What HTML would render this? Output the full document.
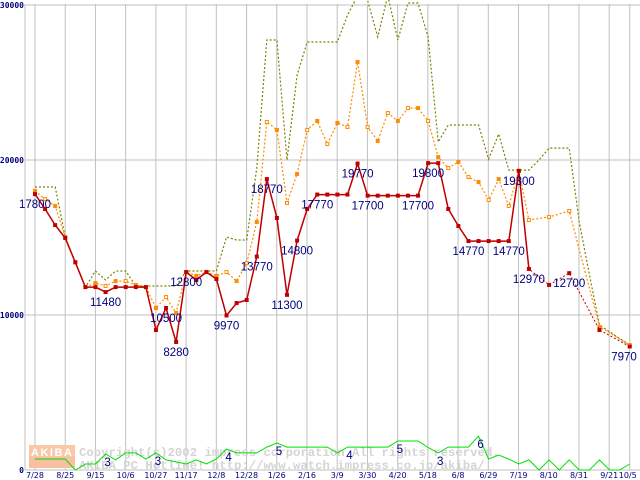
<!DOCTYPE html>
<html><head><meta charset="utf-8"><style>
html,body{margin:0;padding:0;background:#fff;}
svg{display:block;font-family:"Liberation Sans",sans-serif;}
</style></head><body>
<svg id="chart" width="640" height="480" viewBox="0 0 640 480" xmlns="http://www.w3.org/2000/svg">
<g id="grid"></g>
<g id="wm">
<rect x="29" y="445" width="46" height="12" fill="#f8c8a8"/>
<rect x="29" y="457" width="46" height="11" fill="#f8c0a0"/>
<text x="31" y="456" font-size="11" font-weight="bold" letter-spacing="1.5" fill="#fff">AKIBA</text>
<text x="79" y="456" font-family="Liberation Mono,monospace" font-size="12.3" font-weight="bold" fill="#d4d4d4">Copyright(c)2002 impress corporation All rights reserved.</text>
<text x="79" y="469" font-family="Liberation Mono,monospace" font-size="12.3" font-weight="bold" fill="#d4d4d4">AKIBA PC Hotline! http://www.watch.impress.co.jp/akiba/</text>
</g>
<g id="series"></g>
<g id="labels"></g>
</svg>
<script>
const xLabels = ["7/28","8/25","9/15","10/6","10/27","11/17","12/8","12/28","1/26","2/16","3/9","3/30","4/20","5/18","6/8","6/29","7/19","8/10","8/31","9/21","10/5"];
const yTicks = [0,10000,20000,30000];
const redValues = [17800,16840,15800,14970,13400,11800,11800,11480,11800,11800,11800,11800,9030,10450,8260,12770,12260,12770,12320,9970,10770,10970,13770,18770,16260,11300,14800,16840,17770,17770,17770,17770,19770,17700,17700,17700,17700,17700,17700,19800,19800,16840,15740,14770,14770,14770,14770,14770,19300,12970,null,11940,null,12700,null,null,9030,null,null,7970];
const orangeValues = [18000,17480,17030,15030,13400,11800,12060,11870,12190,12190,11940,11800,10450,11160,10130,12770,12520,12770,12520,12770,12190,13350,16000,22450,21940,17230,19100,21940,22520,21030,22390,22130,26320,22130,21230,23030,22520,23350,23350,22520,20190,19480,19870,18900,18580,17420,18770,17030,19300,16130,null,16320,null,16710,null,null,9230,null,null,8060];
const oliveValues = [18260,18260,18260,15030,13400,11800,12840,12260,12840,12840,11870,11870,11870,11870,11870,12840,12840,12840,12840,15030,14840,14840,19500,27740,27740,20000,25480,27610,27610,27610,27610,29350,30600,30300,27940,30600,27740,30130,30130,27940,21160,22260,22260,22260,22260,20060,21680,19350,19350,19350,20000,20770,20770,20770,16000,12600,9350,null,null,8060];
const greenValues = [710,710,710,710,0,390,390,1030,650,1100,1100,710,1100,650,520,390,650,390,710,1350,1100,1100,1100,1480,1740,1480,1480,1480,1480,1480,1100,1480,1480,1480,1480,1480,1870,1870,1870,1450,1100,1480,1480,1480,2190,710,970,700,390,650,0,650,0,650,0,0,650,0,0,390];
const priceLabels = ["17800","11480","10500","8280","12800","9970","13770","18770","11300","14800","17770","19770","17700","17700","19800","14770","14770","19300","12970","12700","7970"];
const priceLabelIdx = [0,7,13,14,15,19,22,23,25,26,28,32,33,38,39,43,47,48,49,53,59];
const priceLabelVal = [17800,11480,10450,8260,12770,9970,13770,18770,11300,14800,17770,19770,17700,17700,19800,14770,14770,19300,12970,12700,7970];
const countLabels = ["3","3","4","5","4","5","3","6"];
const countLabelIdx = [7,12,19,24,31,36,40,44];

const NS="http://www.w3.org/2000/svg";
const X0=35, DX=10.08, Y0=470, YS=15.5/1000;
function xs(i){return X0+i*DX;}
function ys(v){return Y0-v*YS;}
function mk(tag,attrs,parent){const e=document.createElementNS(NS,tag);for(const k in attrs)e.setAttribute(k,attrs[k]);parent.appendChild(e);return e;}
const grid=document.getElementById('grid');
const ser=document.getElementById('series');
const lab=document.getElementById('labels');
mk('rect',{x:0,y:0,width:640,height:480,fill:'#fff'},grid);
for(let k=0;k<xLabels.length;k++){
  const gx = k<20 ? X0+k*30.22 : xs(59);
  const l=mk('line',{x1:gx,x2:gx,y1:4,y2:470,stroke:'#c0c0c0','stroke-width':1},grid);
  
  
  const t=mk('text',{x:k<20?gx:gx-2,y:478,'font-size':8,'font-family':'DejaVu Sans,sans-serif',fill:'#000080','text-anchor':'middle'},grid);
  t.textContent=xLabels[k];
  
  
}
yTicks.forEach(v=>{
  const gy=Math.round(ys(v));
  const l=mk('line',{x1:25,x2:640,y1:gy,y2:gy,stroke:'#c0c0c0','stroke-width':1},grid);
  
  
  const t=mk('text',{x:24,y:gy+3,'font-size':8,'font-weight':'bold','font-family':'DejaVu Sans Mono,monospace',fill:'#000080','text-anchor':'end'},grid);
  t.textContent=String(v);
  
  
});
const ax=mk('line',{x1:25,x2:25,y1:4,y2:470,stroke:'#c0c0c0'},grid);



function pts(arr){const p=[];arr.forEach((v,i)=>{if(v!==null)p.push([xs(i),ys(v)]);});return p;}
function pathOf(p){return p.map((q,j)=>(j?'L':'M')+q[0].toFixed(1)+' '+q[1].toFixed(1)).join(' ');}
function segs(arr){const out=[];let cur=[];arr.forEach((v,i)=>{if(v===null){if(cur.length)out.push(cur);cur=[];}else cur.push([xs(i),ys(v)]);});if(cur.length)out.push(cur);return out;}

const ol=mk('path',{d:pathOf(pts(oliveValues)),fill:'none',stroke:'#808000','stroke-width':1.2,'stroke-dasharray':'2,2'},ser);


const or=mk('path',{d:pathOf(pts(orangeValues)),fill:'none',stroke:'#ff8c00','stroke-width':1.2,'stroke-dasharray':'2,2'},ser);


orangeValues.forEach((v,i)=>{if(v===null)return;
  const r=mk('rect',{x:xs(i)-1.5,y:ys(v)-1.5,width:3,height:3,fill:i%2?'#fff':'#ff8c00',stroke:'#ff8c00','stroke-width':1},ser);
  
  
});
const rd=mk('path',{d:pathOf(pts(redValues)),fill:'none',stroke:'#c00000','stroke-width':1,'stroke-dasharray':'2,2'},ser);


segs(redValues).forEach(s=>{
  const p=mk('path',{d:pathOf(s),fill:'none',stroke:'#c00000','stroke-width':1.5},ser);
  
  
});
redValues.forEach((v,i)=>{if(v===null)return;
  const r=mk('rect',{x:xs(i)-2,y:ys(v)-2,width:4,height:4,fill:'#c00000'},ser);
  
  
});
const gr=mk('path',{d:pathOf(pts(greenValues)),fill:'none',stroke:'#00e000','stroke-width':1},ser);



priceLabels.forEach((s,j)=>{
  const i=priceLabelIdx[j], v=priceLabelVal[j];
  const t=mk('text',{x:Math.min(xs(i),624),y:ys(v)+14,'font-size':11.5,fill:'#000080','text-anchor':'middle'},lab);
  t.textContent=s;
  
  
});
countLabels.forEach((s,j)=>{
  const i=countLabelIdx[j];
  const t=mk('text',{x:xs(i)+2,y:ys(greenValues[i])+12,'font-size':11.5,fill:'#000080','text-anchor':'middle'},lab);
  t.textContent=s;
  
  
});
</script>
</body></html>
